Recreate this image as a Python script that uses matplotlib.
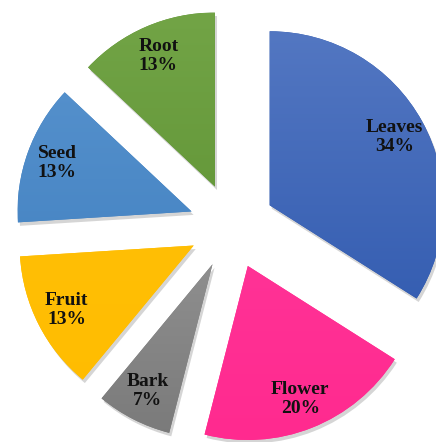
import matplotlib
matplotlib.use("Agg")
import matplotlib.pyplot as plt
import matplotlib.patheffects as pe
import numpy as np
from matplotlib.colors import LinearSegmentedColormap

parts = ["Leaves", "Flower", "Bark", "Fruit", "Seed", "Root"]
shares = [34, 20, 7, 13, 13, 13]
top_colors = ["#5377C2", "#FF3A9D", "#A3A3A3", "#FFC20A", "#5893CE", "#72A446"]
bottom_colors = ["#2D57AD", "#FF2A8F", "#7A7A7A", "#FFBC00", "#3D7DBE", "#5A8E30"]

fig = plt.figure(figsize=(4.36, 4.42), dpi=100)
ax = fig.add_axes([0, 0, 1, 1])

radius = 174
center = (232, 216)
offset = 43

wedges, texts, autotexts = ax.pie(
    shares,
    radius=radius,
    center=center,
    explode=[offset] * len(shares),
    startangle=90,
    counterclock=False,
    autopct="%d%%",
    pctdistance=0.82,
    wedgeprops=dict(linewidth=0, edgecolor="none"),
)

ax.set_aspect("auto")
ax.axis("off")

# soft drop shadow plus a vertical gradient fill clipped to each wedge
for w, c0, c1 in zip(wedges, top_colors, bottom_colors):
    w.set_facecolor(c1)
    w.set_path_effects([
        pe.SimplePatchShadow(offset=(1.5, -2.5), shadow_rgbFace="#888888", alpha=0.35),
        pe.Normal(),
    ])
    cx, cy = w.center
    cmap = LinearSegmentedColormap.from_list("g", [c1, c0])
    grad = np.linspace(0, 1, 256).reshape(-1, 1)
    im = ax.imshow(grad, cmap=cmap, origin="lower", aspect="auto",
                   extent=(cx - radius, cx + radius, cy - radius, cy + radius),
                   zorder=w.get_zorder() + 0.1, interpolation="bilinear")
    im.set_clip_path(w)

ax.set_xlim(0, 436)
ax.set_ylim(0, 442)

for t, name, v in zip(autotexts, parts, shares):
    t.set_text(f"{name}\n{v}%")
    t.set_fontfamily("Liberation Serif")
    t.set_fontweight("bold")
    t.set_fontsize(14)
    t.set_color("#111111")
    t.set_linespacing(1.15)
    t.set_zorder(5)

fig.savefig("out.png", dpi=100)
